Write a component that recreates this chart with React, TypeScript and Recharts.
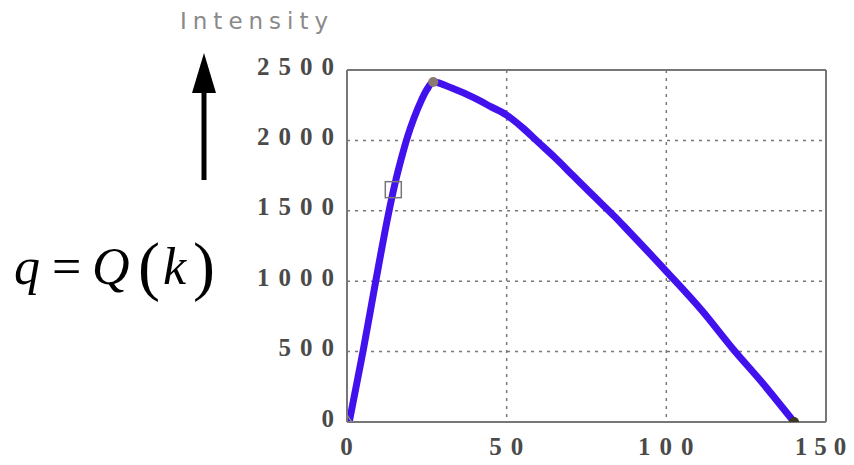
import React from "react";
import {
  ComposedChart,
  Line,
  Scatter,
  XAxis,
  YAxis,
  CartesianGrid,
  ReferenceLine,
} from "recharts";

// position index k along the curve and intensity q = Q(k)
const kValues = [0.7, 5, 9, 13, 15, 17, 19, 21, 23, 25, 27, 33, 40, 45, 50, 55, 60, 65, 71, 77, 84, 88, 100, 111, 121, 130, 140];
const qValues = [0, 500, 1000, 1480, 1690, 1870, 2030, 2160, 2270, 2360, 2415, 2370, 2300, 2240, 2180, 2090, 1985, 1880, 1745, 1610, 1455, 1360, 1070, 795, 515, 280, 0];

const xTicks = [0, 50, 100, 150];
const yTicks = [0, 500, 1000, 1500, 2000, 2500];

const startMark = [{ k: 0, q: 0 }];
const squareMark = [{ k: 14.5, q: 1650 }];
const peakMark = [{ k: 27, q: 2415 }];
const endMark = [{ k: 140, q: 0 }];

const curve = kValues.map((k, i) => ({ k, q: qValues[i] }));

const tickFont = {
  fontFamily: "Liberation Serif",
  fontSize: 25,
  fontWeight: "bold" as const,
  fill: "#4a4a4a",
  letterSpacing: 9,
};

const YTick = ({ x, y, payload }: any) => (
  <text x={x + 4} y={y - 4} textAnchor="end" dominantBaseline="central" {...tickFont}>
    {payload.value}
  </text>
);

const XTick = ({ x, y, payload }: any) => (
  <text
    x={payload.value === 150 ? x - 2 : x + 4}
    y={y + 16}
    textAnchor="middle"
    dominantBaseline="central"
    {...tickFont}
    letterSpacing={payload.value === 150 ? 7 : 9}
  >
    {payload.value}
  </text>
);

const Triangle = ({ cx, cy }: any) => (
  <polygon
    points={`${cx},${cy - 7} ${cx - 7},${cy + 3} ${cx + 7},${cy + 3}`}
    fill="none"
    stroke="#888"
    strokeWidth={1.5}
  />
);

const Square = ({ cx, cy }: any) => (
  <rect x={cx - 8} y={cy - 8} width={16} height={16} fill="none" stroke="#777" strokeWidth={1.5} />
);

const Dot = ({ cx, cy, fill }: any) => <circle cx={cx} cy={cy} r={5} fill={fill} />;

export default function App() {
  return (
    <div style={{ position: "absolute", left: 0, top: 0, width: 854, height: 465, background: "#fff" }}>
      <ComposedChart
        width={854}
        height={465}
        data={curve}
        margin={{ top: 70, right: 28, bottom: 0, left: 0 }}
      >
        <CartesianGrid stroke="#777" strokeWidth={1.5} strokeDasharray="3 5" />
        <XAxis
          type="number"
          dataKey="k"
          domain={[0, 150]}
          ticks={xTicks}
          height={43}
          axisLine={{ stroke: "#777", strokeWidth: 2 }}
          tickLine={false}
          tick={<XTick />}
          allowDataOverflow
        />
        <YAxis
          type="number"
          domain={[0, 2500]}
          ticks={yTicks}
          width={347}
          axisLine={{ stroke: "#777", strokeWidth: 2 }}
          tickLine={false}
          tick={<YTick />}
          allowDataOverflow
        />
        <ReferenceLine y={2500} stroke="#777" strokeWidth={2} />
        <ReferenceLine x={150} stroke="#777" strokeWidth={2} />
        <Line
          type="monotone"
          dataKey="q"
          stroke="#4212ee"
          strokeWidth={7}
          dot={false}
          isAnimationActive={false}
        />
        <Scatter data={startMark} dataKey="q" shape={<Triangle />} isAnimationActive={false} />
        <Scatter data={squareMark} dataKey="q" shape={<Square />} isAnimationActive={false} />
        <Scatter data={peakMark} dataKey="q" shape={<Dot fill="#8a7a70" />} isAnimationActive={false} />
        <Scatter data={endMark} dataKey="q" shape={<Dot fill="#3a3a20" />} isAnimationActive={false} />
      </ComposedChart>
      <svg width={854} height={465} style={{ position: "absolute", left: 0, top: 0, pointerEvents: "none" }}>
        <text
          x={180}
          y={21}
          dominantBaseline="central"
          fontFamily="DejaVu Sans"
          fontSize={23}
          fill="#8a8a8a"
          letterSpacing={6}
        >
          Intensity
        </text>
        <line x1={204} y1={180} x2={204} y2={88} stroke="#000" strokeWidth={5} />
        <polygon points="204,53 192,93 216,93" fill="#000" />
        <g fontFamily="Liberation Serif" fill="#000">
          <text x={14} y={284} fontSize={52} fontStyle="italic">q</text>
          <text x={52} y={284} fontSize={52}>=</text>
          <text x={92} y={284} fontSize={52} fontStyle="italic">Q</text>
          <text x={138} y={288} fontSize={66}>(</text>
          <text x={163} y={284} fontSize={52} fontStyle="italic">k</text>
          <text x={193} y={288} fontSize={66}>)</text>
        </g>
      </svg>
    </div>
  );
}
